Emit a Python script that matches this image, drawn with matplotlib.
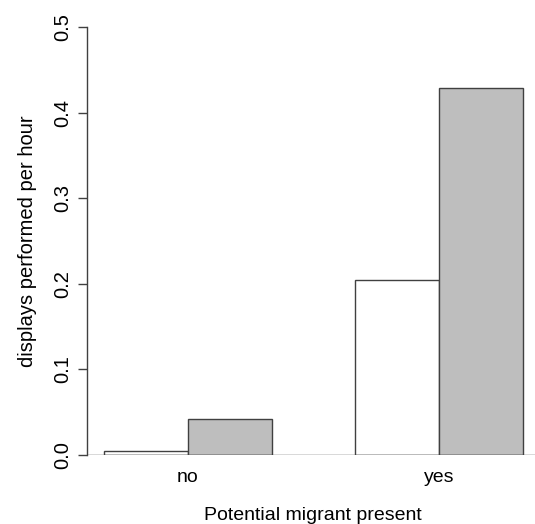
import matplotlib
matplotlib.use("Agg")
import matplotlib.pyplot as plt
import numpy as np

categories = ["no", "yes"]
series_white = [0.005, 0.205]
series_grey = [0.042, 0.429]
yticks = [0.0, 0.1, 0.2, 0.3, 0.4, 0.5]
ytick_labels = ["0.0", "0.1", "0.2", "0.3", "0.4", "0.5"]

plt.rcParams['font.family'] = ['Liberation Sans', 'DejaVu Sans']
fig = plt.figure(figsize=(5.35, 5.24), dpi=100)
W, H = 535, 524
left_px, right_px, top_px, bot_px = 87, 540, 27, 455
ax = fig.add_axes([left_px / W, 1 - bot_px / H, (right_px - left_px) / W, (bot_px - top_px) / H])

edge = '#404040'
x_white = np.array([1.5, 4.5])
x_grey = x_white + 1
ax.bar(x_white, series_white, width=1.0, color='white', edgecolor=edge, linewidth=1.0)
ax.bar(x_grey, series_grey, width=1.0, color='#bebebe', edgecolor=edge, linewidth=1.0)
ax.axhline(0, color=edge, linewidth=1.0)

ax.set_xlim(0.8, 6.2)
ax.set_ylim(0, 0.5)
for s in ['top', 'right', 'bottom']:
    ax.spines[s].set_visible(False)
ax.spines['left'].set_bounds(0, 0.5)
ax.spines['left'].set_color(edge)
ax.spines['left'].set_linewidth(1.0)

ax.set_yticks(yticks)
ax.set_yticklabels(ytick_labels, rotation=90, va='center', fontsize=14.5)
ax.tick_params(axis='y', length=6.5, width=1.0, color=edge, pad=4)
ax.set_xticks([2, 5])
ax.set_xticklabels(categories, fontsize=14)
ax.tick_params(axis='x', length=0, pad=10)
ax.set_ylabel("displays performed per hour", fontsize=14.5, labelpad=12)
fig.text(313 / W, 1 - 515 / H, "Potential migrant present", fontsize=14, ha='center', va='center')

fig.savefig("out.png", dpi=100)
